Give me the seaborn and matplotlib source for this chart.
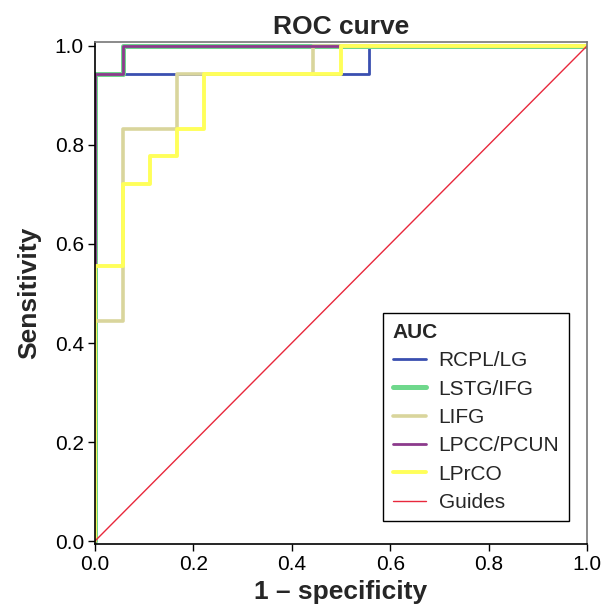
import matplotlib
matplotlib.use("Agg")
import matplotlib.pyplot as plt
import seaborn as sns
import pandas as pd

# ---- data (ROC curve corner vertices) ----
rcpl_fpr = [0, 0, 0.556, 0.556, 1]
rcpl_tpr = [0, 0.944, 0.944, 1, 1]

lstg_fpr = [0, 0, 0.056, 0.056, 1]
lstg_tpr = [0, 0.944, 0.944, 1, 1]

lifg_fpr = [0, 0, 0.056, 0.056, 0.167, 0.167, 0.444, 0.444, 1]
lifg_tpr = [0, 0.444, 0.444, 0.833, 0.833, 0.944, 0.944, 1, 1]

lpcc_fpr = [0, 0, 0.056, 0.056, 1]
lpcc_tpr = [0, 0.944, 0.944, 1, 1]

lprco_fpr = [0, 0, 0.056, 0.056, 0.111, 0.111, 0.167, 0.167, 0.222, 0.222, 0.5, 0.5, 1]
lprco_tpr = [0, 0.556, 0.556, 0.722, 0.722, 0.778, 0.778, 0.833, 0.833, 0.944, 0.944, 1, 1]

guide_x = [0, 1]
guide_y = [0, 1]

labels = ["RCPL/LG", "LSTG/IFG", "LIFG", "LPCC/PCUN", "LPrCO", "Guides"]
ticks = [0.0, 0.2, 0.4, 0.6, 0.8, 1.0]
tick_labels = ["0.0", "0.2", "0.4", "0.6", "0.8", "1.0"]

curves = [
    (rcpl_fpr, rcpl_tpr, "#3a4fb0", 2.0),
    (lstg_fpr, lstg_tpr, "#6fd88c", 3.6),
    (lifg_fpr, lifg_tpr, "#d9d59c", 2.6),
    (lpcc_fpr, lpcc_tpr, "#8c3a8c", 2.0),
    (lprco_fpr, lprco_tpr, "#ffff5a", 2.8),
    (guide_x, guide_y, "#e8283c", 1.0),
]

sns.set_style("ticks")
plt.rcParams["font.family"] = ["Liberation Sans", "DejaVu Sans"]

fig = plt.figure(figsize=(6.05, 6.07), dpi=100)
ax = fig.add_axes([95 / 605, 1 - 544 / 607, 492 / 605, 502 / 607])

for (xs, ys, col, lw), lab in zip(curves, labels):
    df = pd.DataFrame({"x": xs, "y": ys})
    sns.lineplot(data=df, x="x", y="y", ax=ax, sort=False, estimator=None,
                 color=col, linewidth=lw, label=lab)

ax.set_xlim(0, 1.0)
ax.set_ylim(-0.006, 1.008)
ax.set_xticks(ticks)
ax.set_xticklabels(tick_labels)
ax.set_yticks(ticks)
ax.set_yticklabels(tick_labels)
ax.tick_params(axis="both", labelsize=15, length=5, width=1, color="black",
               labelcolor="black", pad=3, direction="out")

for s in ["left", "bottom"]:
    ax.spines[s].set_color("black")
    ax.spines[s].set_linewidth(1.2)
for s in ["top", "right"]:
    ax.spines[s].set_visible(True)
    ax.spines[s].set_color("#777777")
    ax.spines[s].set_linewidth(1.2)

ax.set_xlabel("1 \u2013 specificity", fontsize=19, fontweight="bold", labelpad=4)
ax.set_ylabel("Sensitivity", fontsize=19, fontweight="bold", labelpad=10)
ax.set_title("ROC curve", fontsize=19, fontweight="bold", pad=6)

leg = ax.legend(loc="lower right", bbox_to_anchor=(0.963, 0.045), title="AUC",
                fontsize=15, title_fontproperties={"weight": "bold", "size": 15},
                frameon=True, fancybox=False, edgecolor="black", framealpha=1,
                handlelength=1.6, handletextpad=0.6, labelspacing=0.45,
                borderpad=0.45, borderaxespad=0, alignment="left")
leg.get_frame().set_linewidth(1.0)

fig.savefig("out.png", dpi=100)
